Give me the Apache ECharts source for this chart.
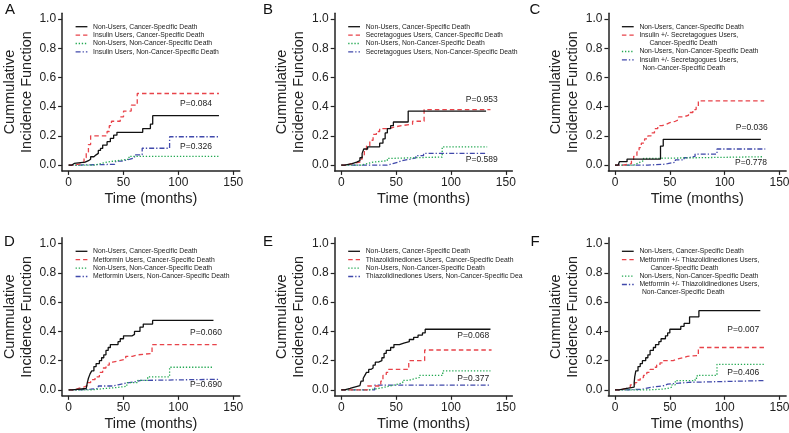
<!DOCTYPE html>
<html><head><meta charset="utf-8">
<script src="https://cdn.jsdelivr.net/npm/echarts@6/dist/echarts.min.js"></script>
<style>html,body{margin:0;padding:0;background:#fff}#c{width:789px;height:433px}</style>
</head><body><div id="c"></div>
<script>
// ---- tick labels ----
const xTicks = [0, 50, 100, 150];
const yTicks = [0, 0.2, 0.4, 0.6, 0.8, 1.0];

// ---- Panel A : Insulin ----
const A_nonCSD = [[0,0],[3,0.011],[5,0.02],[15,0.03],[18,0.04],[20,0.057],[23,0.07],[25,0.08],[27,0.1],[29,0.114],[31,0.137],[35,0.16],[38,0.183],[41,0.205],[44,0.224],[67.5,0.25],[74.5,0.28],[76.6,0.338],[137,0.338]];
const A_usrCSD = [[0,0],[5,0.01],[12,0.02],[14,0.05],[16,0.09],[18,0.14],[20,0.2],[35,0.23],[37,0.27],[39,0.3],[47,0.33],[50,0.37],[57,0.41],[62.5,0.49],[137,0.49]];
const A_nonNCSD = [[0,0],[24,0.01],[29,0.02],[35,0.03],[44,0.04],[55,0.06],[137,0.06]];
const A_usrNCSD = [[0,0],[8,0.005],[42,0.01],[43,0.027],[48,0.04],[56,0.05],[60,0.07],[67,0.115],[92,0.194],[137,0.194]];

// ---- Panel B : Secretagogues ----
const B_nonCSD = [[0,0],[3,0.01],[10,0.02],[14,0.03],[17,0.05],[19,0.08],[20.5,0.11],[24,0.125],[35,0.15],[38,0.18],[40,0.22],[42,0.25],[45,0.27],[47.5,0.295],[61,0.37],[132,0.37]];
const B_usrCSD = [[0,0],[4,0.01],[10,0.02],[17,0.04],[19,0.07],[21,0.1],[23,0.13],[26,0.17],[29,0.21],[32,0.23],[35,0.25],[44,0.26],[48,0.27],[55,0.28],[65,0.3],[75.5,0.38],[136,0.38]];
const B_nonNCSD = [[0,0],[18,0.01],[24,0.02],[29,0.03],[42,0.045],[43,0.055],[92,0.125],[133,0.125]];
const B_usrNCSD = [[0,0],[42,0.01],[47,0.02],[52,0.03],[55,0.04],[63,0.05],[68,0.065],[75,0.08],[133,0.08]];

// ---- Panel C : Insulin +/- Secretagogues ----
const C_nonCSD = [[0,0],[3,0.01],[4,0.023],[11,0.041],[41.5,0.13],[44,0.176],[133,0.176]];
const C_usrCSD = [[0,0],[7,0.005],[12,0.01],[15,0.03],[17,0.06],[20,0.09],[22,0.12],[24,0.15],[27,0.18],[30,0.2],[33,0.22],[36,0.25],[39,0.27],[43,0.28],[47,0.29],[50,0.3],[55,0.31],[58,0.33],[62,0.34],[67,0.36],[71,0.38],[74,0.4],[76,0.44],[136,0.44]];
const C_nonNCSD = [[0,0],[17,0.01],[20,0.02],[23,0.03],[26,0.045],[29,0.057],[134,0.057]];
const C_usrNCSD = [[0,0],[30,0.005],[44,0.01],[48,0.02],[55,0.035],[63,0.05],[67,0.06],[73,0.075],[93,0.11],[137,0.11]];

// ---- Panel D : Metformin ----
const D_nonCSD = [[0,0],[3,0.01],[16,0.02],[17,0.05],[18,0.08],[19.5,0.11],[21,0.13],[23,0.16],[25,0.18],[28,0.2],[30,0.22],[32,0.24],[34,0.27],[36,0.29],[38,0.31],[45,0.33],[47,0.35],[50,0.37],[58,0.38],[60,0.4],[65,0.43],[68,0.45],[76.5,0.475],[132,0.475]];
const D_usrCSD = [[0,0],[5,0.01],[9,0.02],[14,0.03],[17,0.05],[20,0.07],[24,0.09],[28,0.12],[31,0.15],[34,0.17],[37,0.19],[40,0.2],[46,0.21],[52,0.23],[58,0.24],[63,0.25],[76,0.31],[136.5,0.31]];
const D_nonNCSD = [[0,0],[20,0.005],[27,0.01],[33,0.015],[42,0.025],[53,0.05],[63,0.065],[72,0.09],[92,0.155],[132,0.155]];
const D_usrNCSD = [[0,0],[10,0.005],[20,0.01],[27,0.027],[40,0.035],[45,0.046],[52,0.055],[60,0.065],[66,0.073],[137,0.073]];

// ---- Panel E : Thiazolidinediones ----
const E_nonCSD = [[0,0],[3,0.011],[8,0.02],[12,0.03],[17,0.04],[18,0.06],[20,0.08],[21.5,0.1],[23,0.12],[25,0.14],[27,0.15],[29,0.17],[31,0.19],[34,0.2],[37,0.22],[39,0.25],[41,0.27],[45,0.29],[48,0.31],[53,0.32],[57,0.33],[62,0.345],[66,0.36],[70,0.375],[74,0.39],[76.5,0.415],[136,0.415]];
const E_usrCSD = [[0,0],[24,0.027],[36,0.06],[38,0.1],[41,0.12],[43,0.14],[61.5,0.2],[76,0.273],[137,0.273]];
const E_nonNCSD = [[0,0],[25,0.005],[29,0.01],[34,0.02],[40,0.03],[46,0.04],[52,0.05],[56,0.065],[61,0.075],[66,0.085],[71,0.1],[92.5,0.13],[136,0.13]];
const E_usrNCSD = [[0,0],[30.5,0.033],[136,0.033]];

// ---- Panel F : Metformin +/- Thiazolidinediones ----
const F_nonCSD = [[0,0],[3.5,0.011],[11,0.02],[17.5,0.05],[18,0.09],[19,0.13],[21,0.16],[23,0.18],[25,0.2],[28,0.22],[30,0.24],[32,0.27],[35,0.29],[37,0.31],[40,0.33],[42,0.35],[46,0.37],[48,0.39],[50,0.415],[60,0.435],[63,0.455],[68,0.5],[76.5,0.542],[132.5,0.542]];
const F_usrCSD = [[0,0],[5,0.01],[10,0.02],[14,0.035],[18,0.05],[20,0.068],[23,0.085],[26,0.1],[29,0.12],[32,0.14],[35,0.155],[38,0.17],[41,0.185],[43,0.2],[53,0.21],[56.5,0.22],[62,0.23],[66,0.235],[76,0.29],[136,0.29]];
const F_nonNCSD = [[0,0],[30,0.005],[42,0.01],[48,0.02],[52,0.035],[55,0.064],[73,0.08],[75,0.1],[93,0.175],[136,0.175]];
const F_usrNCSD = [[0,0],[10,0.005],[25,0.018],[33,0.025],[40,0.03],[45,0.04],[48,0.046],[58,0.052],[67,0.064],[136,0.064]];

// ---- texts ----
const panelLetters = ['A','B','C','D','E','F'];
const legendLabels = {
  A: ['Non-Users, Cancer-Specific Death','Insulin Users, Cancer-Specific Death','Non-Users, Non-Cancer-Specific Death','Insulin Users, Non-Cancer-Specific Death'],
  B: ['Non-Users, Cancer-Specific Death','Secretagogues Users, Cancer-Specific Death','Non-Users, Non-Cancer-Specific Death','Secretagogues Users, Non-Cancer-Specific Death'],
  C: ['Non-Users, Cancer-Specific Death','Insulin +/- Secretagogues Users,\nCancer-Specific Death','Non-Users, Non-Cancer-Specific Death','Insulin +/- Secretagogues Users,\nNon-Cancer-Specific Death'],
  D: ['Non-Users, Cancer-Specific Death','Metformin Users, Cancer-Specific Death','Non-Users, Non-Cancer-Specific Death','Metformin Users, Non-Cancer-Specific Death'],
  E: ['Non-Users, Cancer-Specific Death','Thiazolidinediones Users, Cancer-Specific Death','Non-Users, Non-Cancer-Specific Death','Thiazolidinediones Users, Non-Cancer-Specific Death'],
  F: ['Non-Users, Cancer-Specific Death','Metformin +/- Thiazolidinediones Users,\nCancer-Specific Death','Non-Users, Non-Cancer-Specific Death','Metformin +/- Thiazolidinediones Users,\nNon-Cancer-Specific Death']
};
const pValues = {
  A: ['P=0.084','P=0.326'], B: ['P=0.953','P=0.589'], C: ['P=0.036','P=0.778'],
  D: ['P=0.060','P=0.690'], E: ['P=0.068','P=0.377'], F: ['P=0.007','P=0.406']
};
const curves = {
  A: [A_nonCSD, A_usrCSD, A_nonNCSD, A_usrNCSD],
  B: [B_nonCSD, B_usrCSD, B_nonNCSD, B_usrNCSD],
  C: [C_nonCSD, C_usrCSD, C_nonNCSD, C_usrNCSD],
  D: [D_nonCSD, D_usrCSD, D_nonNCSD, D_usrNCSD],
  E: [E_nonCSD, E_usrCSD, E_nonNCSD, E_usrNCSD],
  F: [F_nonCSD, F_usrCSD, F_nonNCSD, F_usrNCSD]
};

// ---- styles / layout ----
const FONT = '"Liberation Sans", Arial, sans-serif';
const styles = [
  {color:'#111111', dash:'solid'},
  {color:'#e8434a', dash:[4.5,3]},
  {color:'#22a851', dash:[1.3,1.8]},
  {color:'#4049ab', dash:[5,2,1.3,2]}
];
const gridLefts = [62.1, 334.7, 608.4];
const gridTops = [13.2, 237.8];
const gridW = 177.7, gridH = [157.7, 158];
const pPos = {
  A: [[196,104],[196,147]], B: [[481.7,99.3],[481.7,160]], C: [[751.7,127.3],[751,162.7]],
  D: [[206,332.3],[206,385]], E: [[473.3,335.7],[473.3,378.3]], F: [[743.3,329.3],[743.3,372.3]]
};
const letterPos = [[10,9.5],[268,9.5],[535,10],[9.5,242],[268,242],[535,242]];
const secondLineIndent = {C:[10,3], F:[11,2.5]};

const grids = [], xAxes = [], yAxes = [], series = [], graphics = [];
panelLetters.forEach((L, i) => {
  const row = Math.floor(i/3), col = i % 3;
  const left = gridLefts[col], top = gridTops[row];
  grids.push({left: left, top: top, width: gridW, height: gridH[row], containLabel: false, outerBoundsMode: 'none'});
  xAxes.push({
    type: 'value', gridIndex: i, min: -6, max: 156,
    name: 'Time (months)', nameLocation: 'middle', nameGap: 21,
    nameTextStyle: {fontSize: 14.5, color: '#222', fontFamily: FONT},
    axisLine: {show: true, onZero: false, lineStyle: {color: '#222', width: 1.5}},
    axisTick: {show: true, length: 4, customValues: xTicks, lineStyle: {color: '#222', width: 1.2}},
    axisLabel: {customValues: xTicks, margin: 6, fontSize: 12, color: '#222', fontFamily: FONT},
    splitLine: {show: false}
  });
  yAxes.push({
    type: 'value', gridIndex: i, min: -0.04, max: 1.04,
    name: 'Cummulative\nIncidence Function', nameLocation: 'middle', nameGap: 27, nameRotate: 90,
    nameTextStyle: {fontSize: 14.5, lineHeight: 17, color: '#222', fontFamily: FONT},
    axisLine: {show: true, onZero: false, lineStyle: {color: '#222', width: 1.5}},
    axisTick: {show: true, length: 4, customValues: yTicks, lineStyle: {color: '#222', width: 1.2}},
    axisLabel: {customValues: yTicks, margin: 6, fontSize: 12, color: '#222', fontFamily: FONT,
      formatter: v => v.toFixed(1)},
    splitLine: {show: false}
  });
  curves[L].forEach((d, k) => {
    series.push({
      type: 'line', name: L + ': ' + legendLabels[L][k].replace('\n',' '),
      xAxisIndex: i, yAxisIndex: i, data: d, step: 'end',
      showSymbol: false, symbol: 'none', silent: true,
      lineStyle: {color: styles[k].color, width: 1.3, type: styles[k].dash},
      z: 10 - k
    });
  });
  graphics.push({type:'text', x: letterPos[i][0], y: letterPos[i][1],
    style:{text: L, fontSize: 15, fontFamily: FONT, fill:'#111', align:'center', verticalAlign:'middle'}});
  pValues[L].forEach((p, k) => {
    graphics.push({type:'text', x: pPos[L][k][0], y: pPos[L][k][1],
      style:{text: p, fontSize: 8.5, fontFamily: FONT, fill:'#222', align:'center', verticalAlign:'middle'}});
  });
  let yy = top + 13.5;
  const lx1 = left + 13.5, lx2 = left + 25.3, tx = left + 31;
  legendLabels[L].forEach((lab, k) => {
    const st = styles[k];
    graphics.push({type:'line', shape:{x1: lx1, y1: yy, x2: lx2, y2: yy},
      style:{stroke: st.color, lineWidth: 1.3, lineDash: st.dash === 'solid' ? null : st.dash}});
    const parts = lab.split('\n');
    const textStyle = {text: parts[0], fontSize: 6.8, fontFamily: FONT, fill:'#222', align:'left', verticalAlign:'middle'};
    if (L === 'E' && k === 3) { textStyle.width = 525 - tx; textStyle.overflow = 'truncate'; textStyle.ellipsis = ''; }
    graphics.push({type:'text', x: tx, y: yy, style: textStyle});
    if (parts.length > 1) {
      yy += 8;
      const ind = secondLineIndent[L][k === 1 ? 0 : 1];
      graphics.push({type:'text', x: tx + ind, y: yy,
        style:{text: parts[1], fontSize: 6.8, fontFamily: FONT, fill:'#222', align:'left', verticalAlign:'middle'}});
    }
    yy += 8.4;
  });
});

const chart = echarts.init(document.getElementById('c'), null, {renderer: 'canvas'});
chart.setOption({
  animation: false,
  backgroundColor: '#ffffff',
  grid: grids, xAxis: xAxes, yAxis: yAxes, series: series,
  graphic: graphics
});
</script>
</body></html>
